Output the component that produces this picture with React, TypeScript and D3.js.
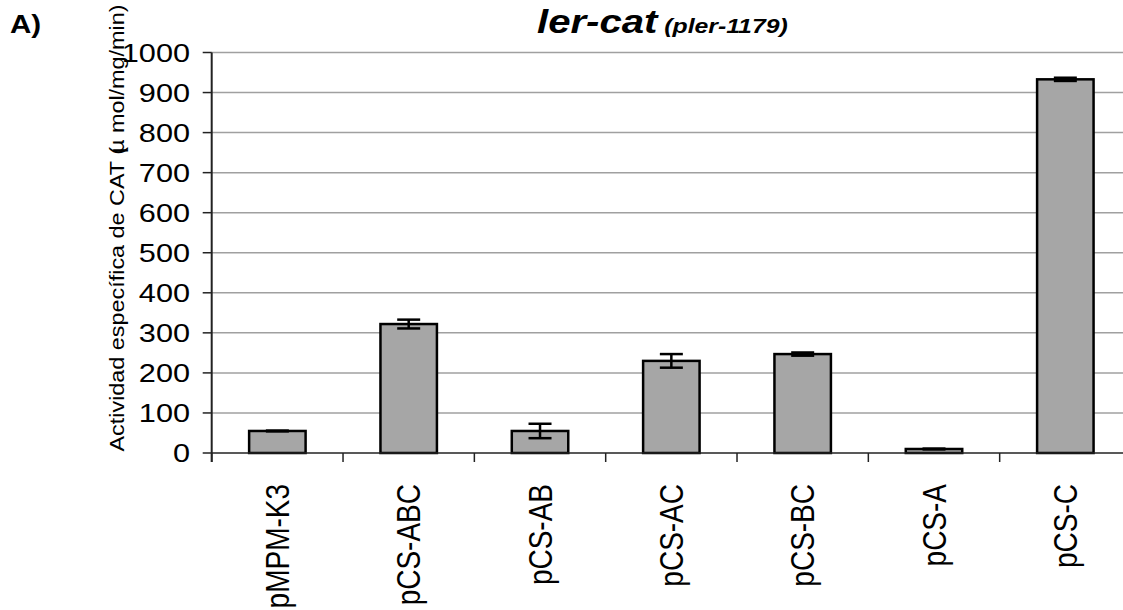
import React, { useEffect, useRef } from "react";
import * as d3 from "d3";

const categories = ["pMPM-K3", "pCS-ABC", "pCS-AB", "pCS-AC", "pCS-BC", "pCS-A", "pCS-C"];
const values = [55, 322, 55, 230, 247, 10, 933];
const errors = [1, 11, 18, 17, 4, 1, 4];
const yTicks = [0, 100, 200, 300, 400, 500, 600, 700, 800, 900, 1000];

const WIDTH = 1123;
const HEIGHT = 610;
const SX = 1.18; // the source picture is stretched horizontally
const FONT = "'Liberation Sans', Arial, sans-serif";

const App = () => {
  const svgRef = useRef<SVGSVGElement>(null);

  useEffect(() => {
    const svg = d3.select(svgRef.current);
    svg.selectAll("*").remove();

    const left = 211.7;
    const right = 1131;
    const data = categories.map((name, i) => ({ name, value: values[i], err: errors[i] }));

    const x = d3
      .scaleBand()
      .domain(categories)
      .range([left, right])
      .paddingInner(0.57)
      .paddingOuter(0.285);

    const xCell = d3.scaleBand().domain(categories).range([left, right]).padding(0);

    const y = d3.scaleLinear().domain([0, 1000]).range([453, 52.5]);

    // gridlines
    svg
      .append("g")
      .selectAll("line")
      .data(yTicks.filter((t) => t > 0))
      .enter()
      .append("line")
      .attr("x1", left)
      .attr("x2", right)
      .attr("y1", (d) => y(d))
      .attr("y2", (d) => y(d))
      .attr("stroke", "#a0a0a0")
      .attr("stroke-width", 1.5);

    // bars
    svg
      .append("g")
      .selectAll("rect")
      .data(data)
      .enter()
      .append("rect")
      .attr("x", (d) => x(d.name)!)
      .attr("y", (d) => y(d.value))
      .attr("width", x.bandwidth())
      .attr("height", (d) => y(0) - y(d.value))
      .attr("fill", "#a6a6a6")
      .attr("stroke", "#000")
      .attr("stroke-width", 2.5);

    // error bars
    const eb = svg.append("g").attr("stroke", "#000").attr("stroke-width", 2.5);
    data.forEach((d) => {
      const cx = x(d.name)! + x.bandwidth() / 2;
      eb.append("line")
        .attr("x1", cx)
        .attr("x2", cx)
        .attr("y1", y(d.value - d.err))
        .attr("y2", y(d.value + d.err));
      [d.value - d.err, d.value + d.err].forEach((v) => {
        eb.append("line")
          .attr("x1", cx - 11.5)
          .attr("x2", cx + 11.5)
          .attr("y1", y(v))
          .attr("y2", y(v));
      });
    });

    // x axis
    const axis = svg.append("g").attr("stroke", "#222");
    axis
      .append("line")
      .attr("x1", left)
      .attr("x2", right)
      .attr("y1", y(0))
      .attr("y2", y(0))
      .attr("stroke-width", 1.5);
    axis
      .selectAll(".xt")
      .data(categories)
      .enter()
      .append("line")
      .attr("x1", (d) => xCell(d)!)
      .attr("x2", (d) => xCell(d)!)
      .attr("y1", y(0))
      .attr("y2", y(0) + 9)
      .attr("stroke-width", 1.5);

    // y axis
    axis
      .append("line")
      .attr("x1", left)
      .attr("x2", left)
      .attr("y1", y(1000))
      .attr("y2", y(0) + 9)
      .attr("stroke-width", 2);
    axis
      .selectAll(".yt")
      .data(yTicks)
      .enter()
      .append("line")
      .attr("x1", left - 9)
      .attr("x2", left)
      .attr("y1", (d) => y(d))
      .attr("y2", (d) => y(d))
      .attr("stroke-width", 1.5);

    svg
      .append("g")
      .selectAll("text")
      .data(yTicks)
      .enter()
      .append("text")
      .attr("transform", (d) => `translate(190, ${y(d)}) scale(${SX}, 1)`)
      .attr("text-anchor", "end")
      .attr("dy", "0.36em")
      .attr("font-family", FONT)
      .attr("font-size", 26)
      .attr("fill", "#000")
      .text((d) => d);

    // category labels
    svg
      .append("g")
      .selectAll("text")
      .data(categories)
      .enter()
      .append("text")
      .attr(
        "transform",
        (d) => `translate(${xCell(d)! + xCell.bandwidth() / 2 + 11.5}, 484) scale(${SX}, 1) rotate(-90)`
      )
      .attr("text-anchor", "end")
      .attr("font-family", FONT)
      .attr("font-size", 28)
      .attr("fill", "#000")
      .text((d) => d);

    // y axis title
    const yl = svg
      .append("text")
      .attr("transform", `translate(124, 228) rotate(-90) scale(1.2, 1)`)
      .attr("text-anchor", "middle")
      .attr("font-family", FONT)
      .attr("font-size", 19.5)
      .attr("fill", "#000");
    yl.append("tspan").text("Actividad específica de CAT (");
    yl.append("tspan").attr("dx", -5).text("µ");
    yl.append("tspan").text(" mol/mg/min)");

    // title
    const title = svg
      .append("text")
      .attr("transform", `translate(537, 33) scale(${SX}, 1)`)
      .attr("font-family", FONT)
      .attr("font-weight", "bold")
      .attr("font-style", "italic")
      .attr("fill", "#000");
    title.append("tspan").attr("font-size", 34).text("ler-cat");
    title.append("tspan").attr("font-size", 21).text(" (pler-1179)");

    svg
      .append("text")
      .attr("transform", `translate(10, 33) scale(${SX}, 1)`)
      .attr("font-family", FONT)
      .attr("font-weight", "bold")
      .attr("font-size", 25)
      .attr("fill", "#000")
      .text("A)");
  }, []);

  return (
    <svg
      ref={svgRef}
      width={WIDTH}
      height={HEIGHT}
      style={{ position: "absolute", left: 0, top: 0, background: "#fff" }}
    ></svg>
  );
};

export default App;
